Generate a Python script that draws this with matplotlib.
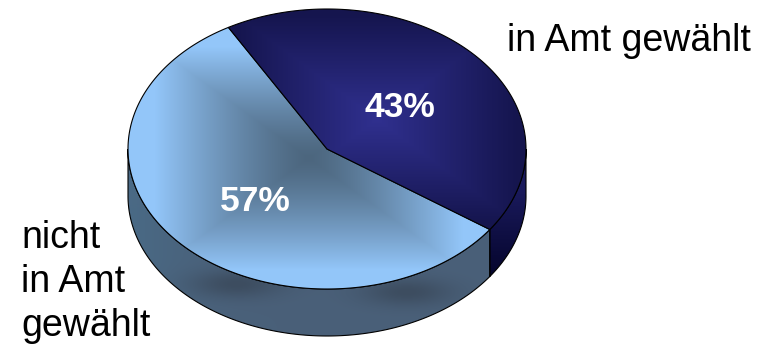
#!/usr/bin/env python3
"""3D-Torte: in Amt gewählt vs. nicht in Amt gewählt."""
import numpy as np
import matplotlib; matplotlib.use("Agg"); import matplotlib.pyplot as plt
from matplotlib.patches import Polygon

label_top = ["in Amt gewählt"]
label_left = ["nicht", "in Amt", "gewählt"]
shares = [43, 57]
pct_labels = ["43%", "57%"]

W, H = 765, 345
CX, CY, RX, RY, DEPTH = 327, 149, 199, 140, 47
START = 119.7  # winkel der ersten speiche, im uhrzeigersinn

def hex2rgb(h): return np.array([int(h[i:i+2], 16)/255 for i in (1, 3, 5)])
def mix(a, b, t): return hex2rgb(a)*(1-t[..., None])+hex2rgb(b)*t[..., None]

def arc(a0, a1, dy=0, n=200):
    a = np.radians(np.linspace(a0, a1, n))
    return np.column_stack([CX+RX*np.cos(a), CY-RY*np.sin(a)+dy])

plt.rcParams["font.family"] = ["Liberation Sans", "DejaVu Sans"]
f = plt.figure(figsize=(W/100, H/100), dpi=100)
ax = f.add_axes([0, 0, 1, 1]); ax.set_xlim(0, W); ax.set_ylim(H, 0); ax.axis("off")
X, Y = np.meshgrid(np.arange(W)+.5, np.arange(H)+.5)

def paint(rgb, pts, z):
    poly = Polygon(pts, closed=True, fc="none", ec="black", lw=.8, zorder=z+.1)
    ax.add_patch(poly)
    im = ax.imshow(np.clip(rgb, 0, 1), extent=(0, W, H, 0), aspect="auto", interpolation="bilinear", zorder=z)
    im.set_clip_path(poly)

def rect_t(pts):
    # rechteck-verlauf über die bounding box des stücks
    x0, y0 = pts.min(axis=0); x1, y1 = pts.max(axis=0)
    return np.maximum(np.abs(X-(x0+x1)/2)/((x1-x0)/2), np.abs(Y-(y0+y1)/2)/((y1-y0)/2))

# winkel aus den anteilen
a_dark_end = START-shares[0]/sum(shares)*360

# seitenwände
side_light = np.vstack([arc(180, 360+a_dark_end), arc(360+a_dark_end, 180, DEPTH)])
sl = np.full((H, W, 3), hex2rgb("#4a6079"))
sl = sl+np.clip((150-np.abs(X-128))/150, 0, 1)[..., None]**2*np.array([0, .04, .05])
for sx, sy in [(237, 284), (407, 292)]:
    g = np.exp(-((X-sx)/45)**2-((Y-sy)/14)**2)
    sl = sl*(1-g[..., None])+hex2rgb("#3d4d60")*g[..., None]
paint(sl, side_light, 1)

side_dark = np.vstack([arc(a_dark_end, 0), arc(0, a_dark_end, DEPTH)])
paint(mix("#1a1a5c", "#04042a", np.clip((Y-190)/90, 0, 1)), side_dark, 1)

# deckel
light = np.vstack([[CX, CY], arc(START, START+shares[1]/sum(shares)*360)])
t = np.clip(rect_t(light)/.85, 0, 1)**1.3
paint(mix("#4c667e", "#93c6f9", t), light, 2)

dark = np.vstack([[CX, CY], arc(START, a_dark_end)])
t = np.clip(rect_t(dark)/.95, 0, 1)
paint(mix("#30308f", "#15154e", t), dark, 3)

ax.text(400, 117, pct_labels[0], color="white", fontsize=25.5, fontweight="bold", ha="center", va="baseline", zorder=5)
ax.text(255, 211, pct_labels[1], color="white", fontsize=25.5, fontweight="bold", ha="center", va="baseline", zorder=5)
ax.text(507, 51, label_top[0], color="black", fontsize=27, ha="left", va="baseline", zorder=5)
for i, line in enumerate(label_left):
    ax.text(21, 248+44.2*i, line, color="black", fontsize=27, ha="left", va="baseline", zorder=5)

f.savefig("out.png", dpi=100, facecolor="white")
